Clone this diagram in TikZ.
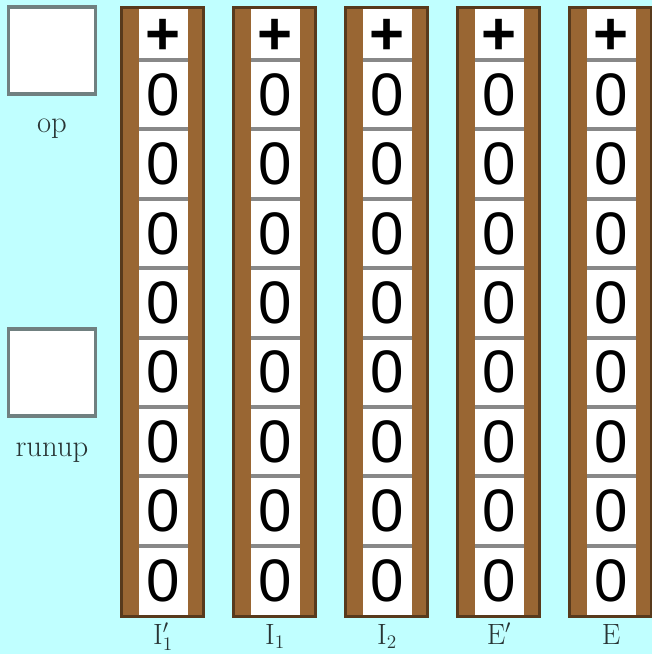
\documentclass[tikz,border=0pt]{standalone}
\usepackage{fontspec}
\newfontfamily\digitfont{Liberation Sans}
\definecolor{bgcyan}{RGB}{192,255,255}
\definecolor{regbrown}{RGB}{153,102,51}
\definecolor{regedge}{RGB}{88,58,28}
\definecolor{sepgray}{RGB}{136,136,136}
\definecolor{boxgray}{RGB}{112,128,128}
\definecolor{labelgray}{RGB}{40,52,52}
\begin{document}
\begin{tikzpicture}[x=0.75pt,y=0.75pt,yscale=-1,
  digit/.style={font=\digitfont\fontsize{45}{45}\selectfont,inner sep=0pt},
  textlabel/.style={font=\fontsize{23}{23}\selectfont,text=labelgray,inner sep=0pt,anchor=base},
  regbox/.style={draw=boxgray,line width=2.6pt,fill=white,minimum width=65pt,minimum height=65pt,inner sep=0pt}]
%set diagram to 652 x 654
\fill[bgcyan] (0,0) rectangle (652,654);
\useasboundingbox (0,0) rectangle (652,654);

%Shape: op box
\node[regbox] (opbox) at (52,50.5) {};
% Text Node
\node[textlabel] (oplabel) at (52,132) {op};

%Shape: runup box
\node[regbox] (runupbox) at (52,372.5) {};
% Text Node
\node[textlabel] (runuplabel) at (52,456) {runup};

%Registers
\foreach \i/\lab in {0/{$\mathrm{I}_1'$},1/{$\mathrm{I}_1$},2/{$\mathrm{I}_2$},3/{$\mathrm{E}'$},4/{$\mathrm{E}$}}{
  \pgfmathsetmacro\xl{120+112*\i}
  %Shape: frame
  \draw[regedge,line width=2.2pt,fill=regbrown] (\xl+1.5,7.5) rectangle (\xl+83.5,616.5);
  \fill[white] (\xl+19,9) rectangle (\xl+68,615);
  %Straight Lines: cell borders
  \foreach \k in {0,...,7}
    \draw[sepgray,line width=3pt] (\xl+19,60+69.4*\k) -- (\xl+68,60+69.4*\k);
  % Text Node: sign
  \node[digit,font=\digitfont\bfseries\fontsize{45}{45}\selectfont] (c\i-0) at (\xl+43.5,36.5) {+};
  % Text Node: digits
  \foreach \k in {1,...,8}
    \node[digit] (c\i-\k) at (\xl+43.5,25.3+69.4*\k) {0};
  % Text Node: name
  \node[textlabel,font=\fontsize{22}{22}\selectfont] (name\i) at (\xl+43,644) {\lab};
}

\end{tikzpicture}
\end{document}
